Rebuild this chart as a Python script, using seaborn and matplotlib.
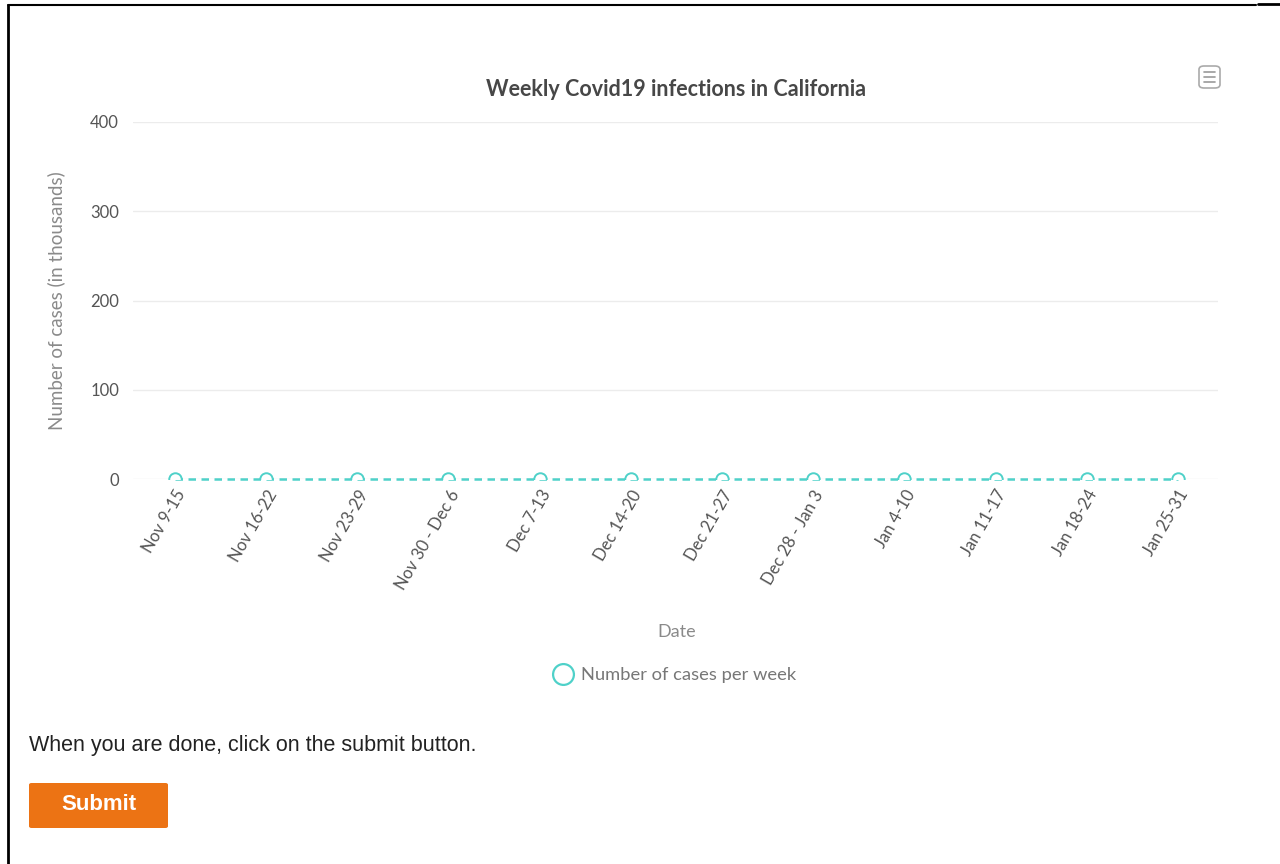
import matplotlib
matplotlib.use("Agg")
import matplotlib.pyplot as plt
import seaborn as sns
import pandas as pd
from matplotlib.patches import FancyBboxPatch
from matplotlib.lines import Line2D

weeks = ["Nov 9-15", "Nov 16-22", "Nov 23-29", "Nov 30 - Dec 6", "Dec 7-13",
         "Dec 14-20", "Dec 21-27", "Dec 28 - Jan 3", "Jan 4-10", "Jan 11-17",
         "Jan 18-24", "Jan 25-31"]
cases = [0, 0, 0, 0, 0, 0, 0, 0, 0, 0, 0, 0]
y_ticks = [0, 100, 200, 300, 400]

teal = "#4fd1c9"
W, H = 1280, 864

df = pd.DataFrame({"week": weeks, "cases": cases, "pos": range(len(weeks))})

sns.set_style("white")
plt.rcParams["font.family"] = ["Lato", "DejaVu Sans"]

fig = plt.figure(figsize=(12.8, 8.64), dpi=100)
ax = fig.add_axes([133 / W, 1 - 479 / H, (1218 - 133) / W, (479 - 122) / H])

# dashed line (not clipped), markers clipped by the plot area like the original
sns.lineplot(data=df, x="pos", y="cases", ax=ax, color=teal, linestyle=(0, (3, 2.2)),
             linewidth=1.8, clip_on=False, zorder=3)
sns.lineplot(data=df, x="pos", y="cases", ax=ax, color=teal, linestyle="none",
             marker="o", markersize=9, markerfacecolor="white",
             markeredgecolor=teal, markeredgewidth=1.4, clip_on=True, zorder=4)

ax.set_xlim(-0.46, len(weeks) - 1 + 0.44)
ax.set_ylim(0, 400)
ax.set_yticks(y_ticks)
ax.set_xticks(range(len(weeks)))
ax.set_xticklabels(weeks, rotation=60, ha="right", rotation_mode="anchor",
                   fontsize=12, color="#555555")
ax.tick_params(axis="y", labelsize=12, labelcolor="#555555", length=0, pad=10)
ax.tick_params(axis="x", length=0, pad=6)
ax.grid(axis="y", color="#ececec", linewidth=1)
for s in ax.spines.values():
    s.set_visible(False)
ax.set_xlabel("")
ax.set_ylabel("Number of cases (in thousands)", fontsize=13.5, color="#8a8a8a", labelpad=18)
fig.text(677 / W, 1 - 632 / H, "Date", ha="center", va="center", fontsize=13,
         color="#8a8a8a")

fig.text(676 / W, 1 - 89 / H, "Weekly Covid19 infections in California", ha="center",
         va="center", fontsize=15.5, fontweight="bold", color="#474747")

# legend
fig.add_artist(Line2D([563 / W], [1 - 674 / H], marker="o", markersize=15,
                      markerfacecolor="white", markeredgecolor=teal, markeredgewidth=1.6))
fig.text(581 / W, 1 - 675 / H, "Number of cases per week", ha="left", va="center",
         fontsize=13.2, color="#777777")

# context menu icon
fig.add_artist(FancyBboxPatch((1199 / W, 1 - 88 / H), 21 / W, 22 / H,
                              boxstyle="round,pad=0,rounding_size=0.004",
                              facecolor="white", edgecolor="#aaaaaa", linewidth=1.2,
                              transform=fig.transFigure))
for yy in [72, 77, 82]:
    fig.add_artist(Line2D([1204 / W, 1215 / W], [1 - yy / H, 1 - yy / H],
                          color="#999999", linewidth=1.2))

# page text and submit button
fig.text(29 / W, 1 - 746 / H, "When you are done, click on the submit button.",
         ha="left", va="center", fontsize=15.5, color="#222222", family="Liberation Sans")
fig.add_artist(FancyBboxPatch((29 / W, 1 - 828 / H), 139 / W, 45 / H,
                              boxstyle="round,pad=0,rounding_size=0.002",
                              facecolor="#ec7314", edgecolor="none",
                              transform=fig.transFigure))
fig.text(99 / W, 1 - 805 / H, "Submit", ha="center", va="center", fontsize=16,
         fontweight="bold", color="white", family="Liberation Sans")

# page border
fig.add_artist(Line2D([8 / W, 8 / W], [0, 1 - 5 / H], color="black", linewidth=2))
fig.add_artist(Line2D([8 / W, 1256 / W], [1 - 5 / H, 1 - 5 / H], color="black", linewidth=1.5))
fig.add_artist(Line2D([1258 / W, 1 - 0.5 / W], [1 - 4 / H, 1 - 4 / H], color="black", linewidth=2))

fig.savefig("out.png", dpi=100)
